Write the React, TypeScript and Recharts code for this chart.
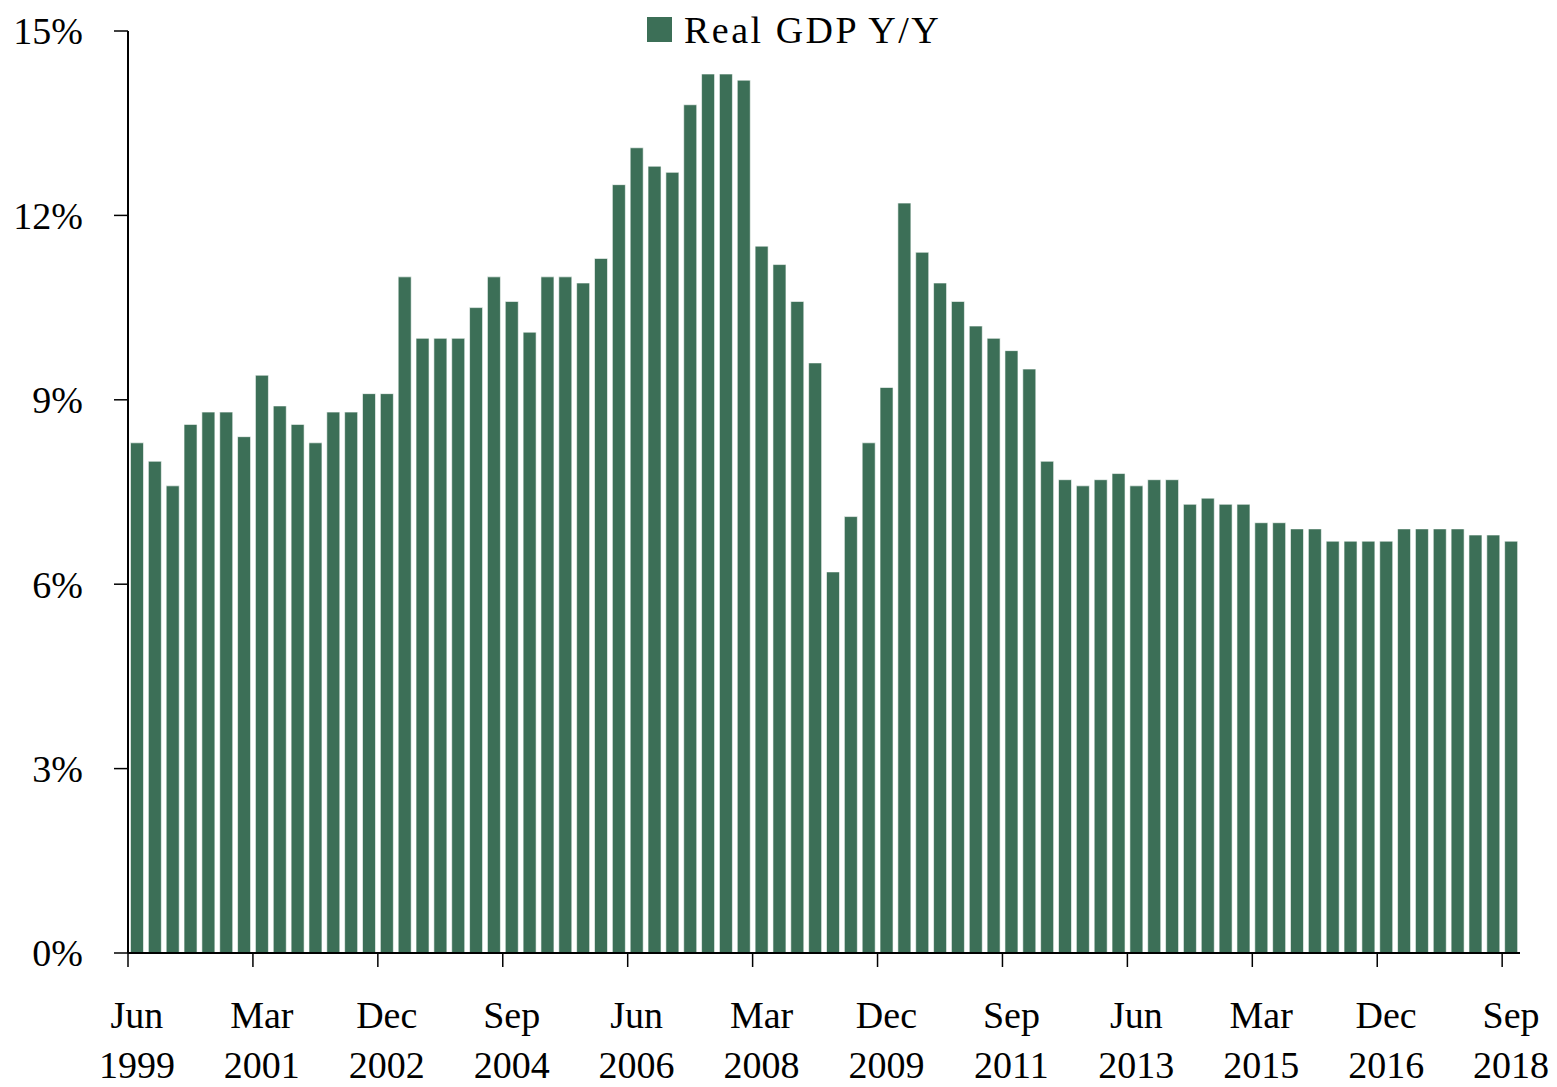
import { Bar, BarChart, XAxis, YAxis } from 'recharts';

const QUARTERS = [
    'Jun 1999', 'Sep 1999', 'Dec 1999',
    'Mar 2000', 'Jun 2000', 'Sep 2000', 'Dec 2000',
    'Mar 2001', 'Jun 2001', 'Sep 2001', 'Dec 2001',
    'Mar 2002', 'Jun 2002', 'Sep 2002', 'Dec 2002',
    'Mar 2003', 'Jun 2003', 'Sep 2003', 'Dec 2003',
    'Mar 2004', 'Jun 2004', 'Sep 2004', 'Dec 2004',
    'Mar 2005', 'Jun 2005', 'Sep 2005', 'Dec 2005',
    'Mar 2006', 'Jun 2006', 'Sep 2006', 'Dec 2006',
    'Mar 2007', 'Jun 2007', 'Sep 2007', 'Dec 2007',
    'Mar 2008', 'Jun 2008', 'Sep 2008', 'Dec 2008',
    'Mar 2009', 'Jun 2009', 'Sep 2009', 'Dec 2009',
    'Mar 2010', 'Jun 2010', 'Sep 2010', 'Dec 2010',
    'Mar 2011', 'Jun 2011', 'Sep 2011', 'Dec 2011',
    'Mar 2012', 'Jun 2012', 'Sep 2012', 'Dec 2012',
    'Mar 2013', 'Jun 2013', 'Sep 2013', 'Dec 2013',
    'Mar 2014', 'Jun 2014', 'Sep 2014', 'Dec 2014',
    'Mar 2015', 'Jun 2015', 'Sep 2015', 'Dec 2015',
    'Mar 2016', 'Jun 2016', 'Sep 2016', 'Dec 2016',
    'Mar 2017', 'Jun 2017', 'Sep 2017', 'Dec 2017',
    'Mar 2018', 'Jun 2018', 'Sep 2018',
];

const REAL_GDP_YY = [
    8.3, 8.0, 7.6, 8.6, 8.8, 8.8, 8.4, 9.4, 8.9, 8.6,
    8.3, 8.8, 8.8, 9.1, 9.1, 11.0, 10.0, 10.0, 10.0, 10.5,
    11.0, 10.6, 10.1, 11.0, 11.0, 10.9, 11.3, 12.5, 13.1, 12.8,
    12.7, 13.8, 14.3, 14.3, 14.2, 11.5, 11.2, 10.6, 9.6, 6.2,
    7.1, 8.3, 9.2, 12.2, 11.4, 10.9, 10.6, 10.2, 10.0, 9.8,
    9.5, 8.0, 7.7, 7.6, 7.7, 7.8, 7.6, 7.7, 7.7, 7.3,
    7.4, 7.3, 7.3, 7.0, 7.0, 6.9, 6.9, 6.7, 6.7, 6.7,
    6.7, 6.9, 6.9, 6.9, 6.9, 6.8, 6.8, 6.7,
];

const Y_TICKS = [0, 3, 6, 9, 12, 15];

const SERIES_NAME = 'Real GDP Y/Y';
const BAR_COLOR = '#3c6f57';
const FONT = '"Liberation Serif", "Times New Roman", serif';
const FONT_SIZE = 38;

const CHART_W = 1557;
const CHART_H = 1087;
const MARGIN = { top: 31, right: 37, bottom: 0, left: 0 };
const Y_AXIS_W = 128;
const X_AXIS_H = 134;
const TICK_SIZE = 14;
const BAND = (CHART_W - MARGIN.left - MARGIN.right - Y_AXIS_W) / QUARTERS.length;

const data = QUARTERS.map((quarter, i) => ({ quarter, value: REAL_GDP_YY[i] }));

// excel style: tick mark on the category boundary, label on the bar centre
const QuarterTick = ({ x, y, payload }: { x?: number; y?: number; payload?: { value: string } }) => {
    if (x === undefined || y === undefined || !payload) {
        return null;
    }
    const [month, year] = String(payload.value).split(' ');
    const edge = x - BAND / 2;
    return (
        <g>
            <line x1={edge} x2={edge} y1={y - TICK_SIZE} y2={y} stroke='#000' strokeWidth={1.5} />
            <text
                x={x}
                textAnchor='middle'
                fill='#000'
                style={{ fontFamily: FONT, fontSize: FONT_SIZE }}
            >
                <tspan x={x} y={y + 61}>
                    {month}
                </tspan>
                <tspan x={x} y={y + 111}>
                    {year}
                </tspan>
            </text>
        </g>
    );
};

export default function App() {
    return (
        <div style={{ position: 'absolute', left: 0, top: 0, width: CHART_W, height: CHART_H }}>
            <BarChart
                width={CHART_W}
                height={CHART_H}
                data={data}
                margin={MARGIN}
                barCategoryGap='14%'
            >
                <XAxis
                    dataKey='quarter'
                    height={X_AXIS_H}
                    interval={6}
                    tickLine={false}
                    tickSize={TICK_SIZE}
                    tickMargin={0}
                    axisLine={{ stroke: '#000', strokeWidth: 2 }}
                    tick={<QuarterTick />}
                />
                <YAxis
                    type='number'
                    domain={[0, 15]}
                    ticks={Y_TICKS}
                    width={Y_AXIS_W}
                    tickFormatter={(v) => `${v}%`}
                    axisLine={{ stroke: '#000', strokeWidth: 2 }}
                    tickLine={{ stroke: '#000', strokeWidth: 1.5 }}
                    tickSize={TICK_SIZE}
                    tickMargin={31}
                    tick={{ fill: '#000', fontSize: FONT_SIZE, fontFamily: FONT }}
                />
                <Bar
                    dataKey='value'
                    name={SERIES_NAME}
                    fill={BAR_COLOR}
                    stroke='#ffffff'
                    strokeWidth={0.6}
                    isAnimationActive={false}
                />
            </BarChart>
            <div
                style={{
                    position: 'absolute',
                    left: 647,
                    top: 17,
                    width: 25,
                    height: 25,
                    background: BAR_COLOR,
                }}
            />
            <div
                style={{
                    position: 'absolute',
                    left: 684,
                    top: 11,
                    fontFamily: FONT,
                    fontSize: FONT_SIZE,
                    lineHeight: 1,
                    letterSpacing: 2.5,
                    color: '#000',
                    whiteSpace: 'nowrap',
                }}
            >
                {SERIES_NAME}
            </div>
        </div>
    );
}
